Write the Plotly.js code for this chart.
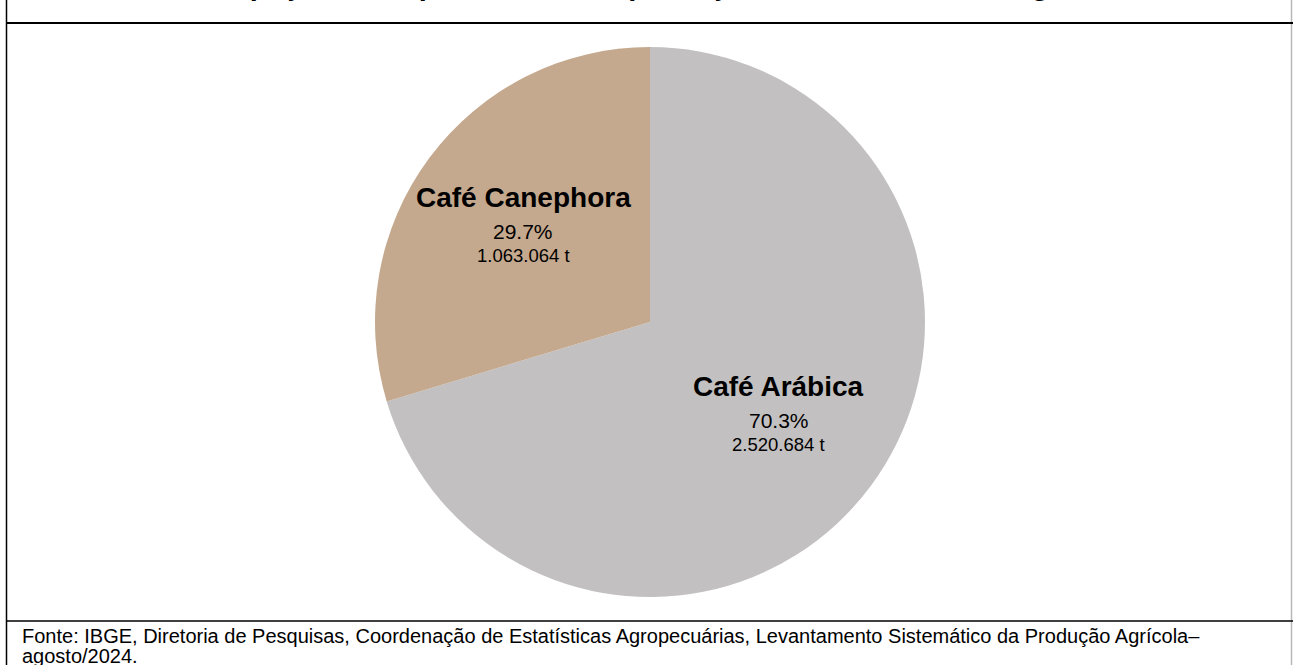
<!DOCTYPE html>
<html>
<head>
<meta charset="utf-8">
<script src="https://cdn.plot.ly/plotly-3.0.1.min.js"></script>
<style>
html,body{margin:0;padding:0;background:#fff;}
#chart{width:1293px;height:665px;}
</style>
</head>
<body>
<div id="chart"></div>
<script>
// ---- data ----
const categories = ["Café Canephora", "Café Arábica"];
const production = [1063064, 2520684];          // toneladas
const percentLabels = ["29.7%", "70.3%"];
const tonLabels = ["1.063.064 t", "2.520.684 t"];
const colors = ["#C4A98E", "#C3C0C1"];
const titleText = "Participação dos tipos de café na produção nacional – Brasil, agosto 2024";
const sourceLine1 = "Fonte: IBGE, Diretoria de Pesquisas, Coordenação de Estatísticas Agropecuárias, Levantamento Sistemático da Produção Agrícola–";
const sourceLine2 = "agosto/2024.";

// ---- layout helpers (pixel -> paper) ----
const W = 1293, H = 665;
const M = {l: 375, r: 368, t: 47, b: 68};
const PW = W - M.l - M.r, PH = H - M.t - M.b;
const px = x => (x - M.l) / PW;
const py = y => (H - M.b - y) / PH;
const CX = M.l + PW / 2, CY = M.t + PH / 2, R = Math.min(PW, PH) / 2;

const FONT = "Arial, 'Liberation Sans', sans-serif";

// slices run counter-clockwise from 12 o'clock in the reference:
// drawn clockwise in reverse order so the first category ends at 12 o'clock
const trace = {
  type: "pie",
  labels: categories.slice().reverse(),
  values: production.slice().reverse(),
  textinfo: "none",
  sort: false,
  direction: "clockwise",
  rotation: 0,
  marker: {colors: colors.slice().reverse(), line: {width: 0}},
  hoverinfo: "skip",
  showlegend: false
};

// slice labels placed at each slice's mid-angle (counter-clockwise from 12 o'clock)
const total = production.reduce((a, b) => a + b, 0);
const labelAnnotations = [];
let cum = 0;
production.forEach((v, i) => {
  const mid = (cum + v / 2) / total;
  cum += v;
  const th = 2 * Math.PI * mid;
  const r = 0.578 * R;
  const x = CX - r * Math.sin(th);
  const y = CY - r * Math.cos(th);
  const mk = (txt, dy, size, bold) => ({
    text: bold ? "<b>" + txt + "</b>" : txt,
    xref: "paper", yref: "paper",
    x: px(x + 1), y: py(y + dy), xanchor: "center", yanchor: "middle",
    showarrow: false,
    font: {family: FONT, size: size, color: "#000"}
  });
  labelAnnotations.push(mk(categories[i], -30, 28, true));
  labelAnnotations.push(mk(percentLabels[i], 4, 21, false));
  labelAnnotations.push(mk(tonLabels[i], 28, 18.5, false));
});

const line = (x0, y0, x1, y1, color, w) => ({
  type: "line", xref: "paper", yref: "paper",
  x0: px(x0), y0: py(y0), x1: px(x1), y1: py(y1),
  line: {color: color, width: w}
});

const layout = {
  width: W, height: H,
  margin: M,
  paper_bgcolor: "#fff",
  plot_bgcolor: "#fff",
  showlegend: false,
  shapes: [
    line(6.5, -5, 6.5, 670, "#000", 1.5),
    line(1291.5, -5, 1291.5, 670, "#b8b8b8", 1.5),
    line(6, 23, 1293, 23, "#000", 2),
    line(6, 621, 1293, 621, "#000", 1.5)
  ],
  annotations: [
    {text: "<b>" + titleText + "</b>", xref: "paper", yref: "paper",
     x: px(672), y: py(3.5), xanchor: "center", yanchor: "bottom",
     showarrow: false, font: {family: FONT, size: 29, color: "#000"}},
    {text: sourceLine1, xref: "paper", yref: "paper",
     x: px(20), y: py(649), xanchor: "left", yanchor: "bottom",
     showarrow: false, font: {family: FONT, size: 20, color: "#000"}},
    {text: sourceLine2, xref: "paper", yref: "paper",
     x: px(20), y: py(669), xanchor: "left", yanchor: "bottom",
     showarrow: false, font: {family: FONT, size: 20, color: "#000"}}
  ].concat(labelAnnotations)
};

Plotly.newPlot("chart", [trace], layout, {displayModeBar: false, staticPlot: true});
</script>
</body>
</html>
